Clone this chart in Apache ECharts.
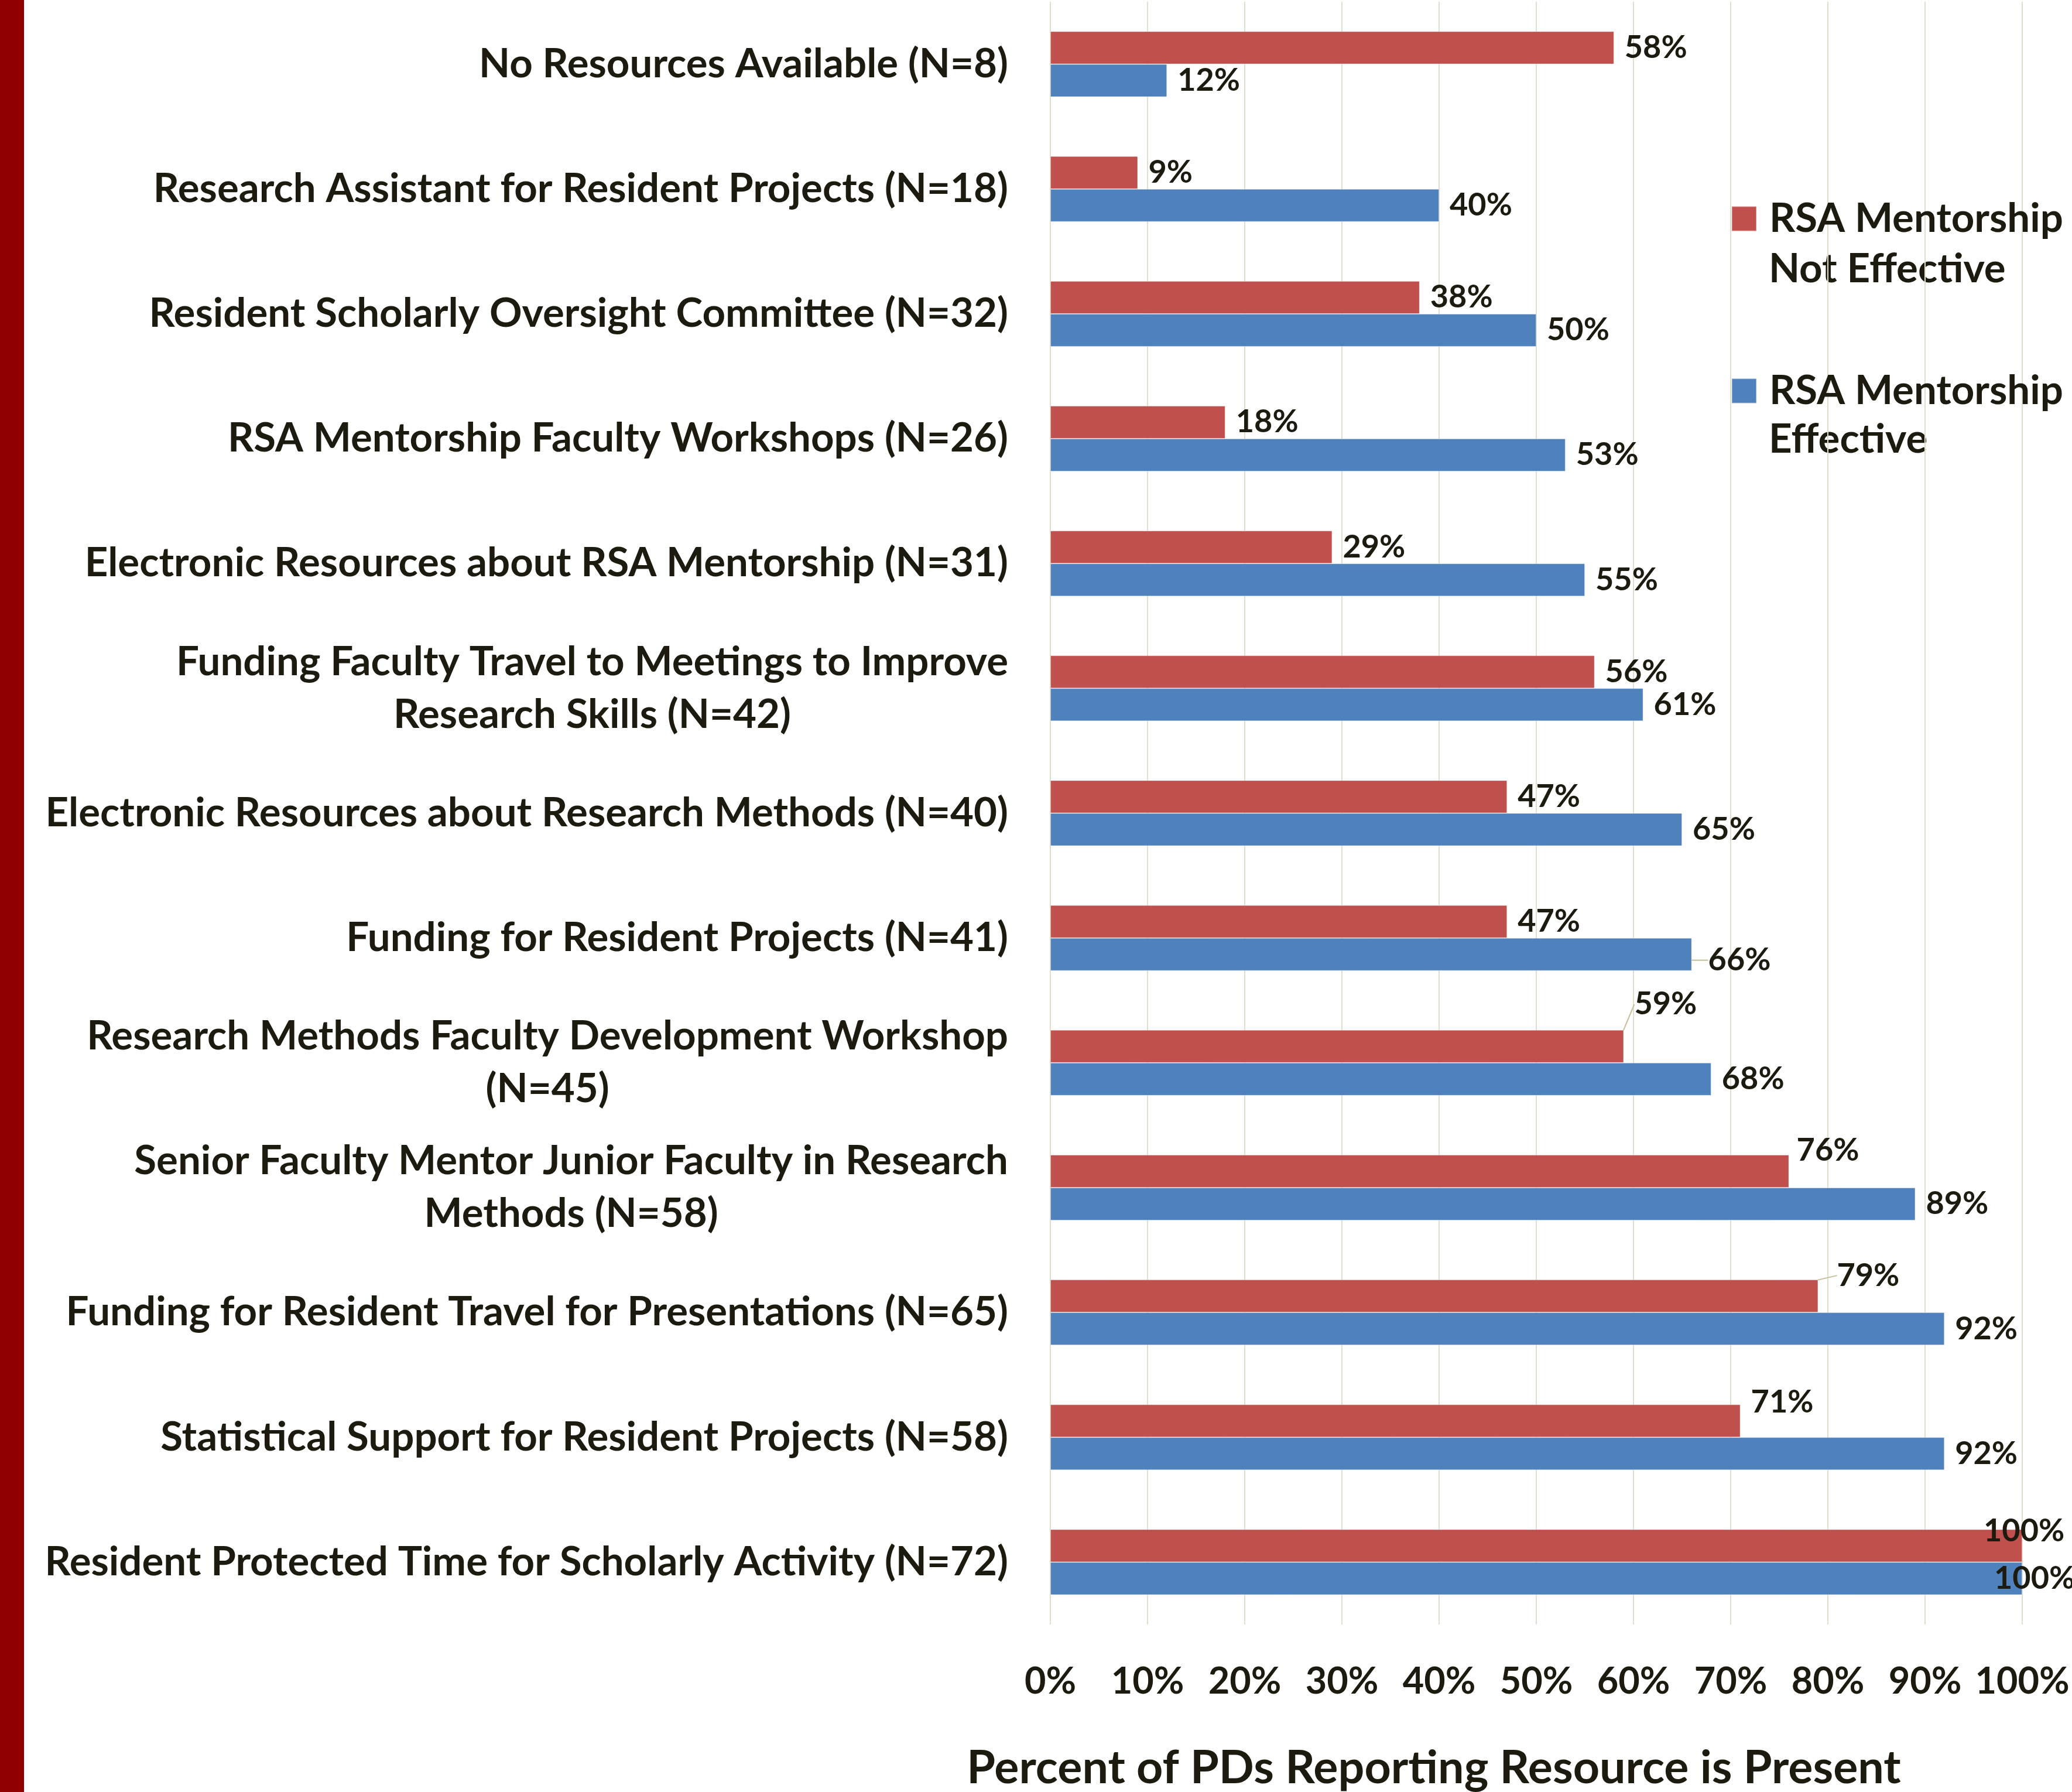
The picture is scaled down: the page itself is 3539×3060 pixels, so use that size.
<!DOCTYPE html>
<html>
<head>
<meta charset="utf-8">
<script src="https://cdn.jsdelivr.net/npm/echarts@6/dist/echarts.min.js"></script>
<style>
  html, body { margin: 0; padding: 0; background: #ffffff; }
  #chart { width: 3539px; height: 3060px; }
</style>
</head>
<body>
<div id="chart"></div>
<script>
// ---- data ----
const categories = [
  'No Resources Available (N=8)',
  'Research Assistant for Resident Projects (N=18)',
  'Resident Scholarly Oversight Committee (N=32)',
  'RSA Mentorship Faculty Workshops (N=26)',
  'Electronic Resources about RSA Mentorship (N=31)',
  'Funding Faculty Travel to Meetings to Improve\nResearch Skills (N=42)',
  'Electronic Resources about Research Methods (N=40)',
  'Funding for Resident Projects (N=41)',
  'Research Methods Faculty Development Workshop\n(N=45)',
  'Senior Faculty Mentor Junior Faculty in Research\nMethods (N=58)',
  'Funding for Resident Travel for Presentations (N=65)',
  'Statistical Support for Resident Projects (N=58)',
  'Resident Protected Time for Scholarly Activity (N=72)'
];
const seriesNames = ['RSA Mentorship Not Effective', 'RSA Mentorship Effective'];
const notEffective = [58, 9, 38, 18, 29, 56, 47, 47, 59, 76, 79, 71, 100];
const effective = [12, 40, 50, 53, 55, 61, 65, 66, 68, 89, 92, 92, 100];
const xTickValues = [0, 10, 20, 30, 40, 50, 60, 70, 80, 90, 100];

// ---- label nudges (style, not data) ----
const nudges = {
  0: { 8: [0, -72, true], 9: [-5, -35, false], 10: [14, -35, true], 11: [0, -32, false], 12: [-84, -25, false] },
  1: { 7: [10, 10, true], 12: [-66, 0, false] }
};

const TEXT = '#1d1b10';
const FONT = 'Lato, "Open Sans", sans-serif';
const RED = '#c0504d';
const BLUE = '#4f81bd';

function buildData(values, sIdx) {
  return values.map((v, i) => {
    const n = nudges[sIdx][i];
    const item = { value: v };
    if (n && n[2]) {
      item.labelLine = { show: true, lineStyle: { color: '#c4bd97', width: 2 } };
    }
    return item;
  });
}

const chart = echarts.init(document.getElementById('chart'), null, { renderer: 'canvas' });

const labelCommon = {
  show: true,
  position: 'right',
  distance: 18,
  formatter: '{c}%',
  fontFamily: FONT,
  fontWeight: 'bold',
  fontSize: 54,
  color: TEXT
};

chart.setOption({
  animation: false,
  backgroundColor: '#ffffff',
  grid: { left: 1794, right: 85, top: 3, bottom: 286, containLabel: false },
  xAxis: {
    type: 'value',
    min: 0,
    max: 100,
    interval: 10,
    axisLine: { show: false },
    axisTick: { show: false },
    splitLine: { show: true, lineStyle: { color: '#e2dece', width: 2 } },
    axisLabel: {
      formatter: v => (xTickValues.indexOf(v) >= 0 ? v + '%' : ''),
      margin: 66,
      fontFamily: FONT,
      fontWeight: 'bold',
      fontSize: 63,
      color: TEXT
    }
  },
  yAxis: {
    type: 'category',
    inverse: true,
    data: categories,
    axisLine: { show: false },
    axisTick: { show: false },
    splitLine: { show: false },
    axisLabel: {
      margin: 72,
      align: 'right',
      formatter: v => v.split('\n').map(l => '{c|' + l + '}').join('\n'),
      rich: {
        c: {
          fontFamily: FONT,
          fontWeight: 'bold',
          fontSize: 69,
          lineHeight: 90,
          color: TEXT,
          align: 'center'
        }
      }
    }
  },
  legend: {
    orient: 'vertical',
    left: 2957,
    top: 339,
    padding: 0,
    itemWidth: 42,
    itemHeight: 42,
    itemGap: 225,
    icon: 'rect',
    selectedMode: false,
    data: seriesNames,
    formatter: () => 'RSA Mentorship',
    textStyle: {
      fontFamily: FONT,
      fontWeight: 'bold',
      fontSize: 69,
      lineHeight: 42,
      color: TEXT,
      padding: [0, 0, 0, 17]
    }
  },
  series: [
    {
      name: seriesNames[0],
      type: 'bar',
      barWidth: 56,
      barGap: '0%',
      data: buildData(notEffective, 0),
      itemStyle: { color: RED, borderColor: 'rgba(255,255,255,0.35)', borderWidth: 1 },
      label: labelCommon,
      labelLayout: p => {
        const n = nudges[0][p.dataIndex];
        return n ? { dx: n[0], dy: n[1] } : {};
      }
    },
    {
      name: seriesNames[1],
      type: 'bar',
      barWidth: 56,
      barGap: '0%',
      data: buildData(effective, 1),
      itemStyle: { color: BLUE, borderColor: 'rgba(255,255,255,0.35)', borderWidth: 1 },
      label: labelCommon,
      labelLayout: p => {
        const n = nudges[1][p.dataIndex];
        return n ? { dx: n[0], dy: n[1] } : {};
      }
    }
  ],
  graphic: [
    { type: 'rect', left: 0, top: 0, shape: { x: 0, y: 0, width: 41, height: 3060 }, style: { fill: '#8f0000' }, silent: true },
    { type: 'text', x: 3021, y: 460, style: { text: 'Not Effective', font: 'bold 69px ' + FONT, fill: TEXT, textAlign: 'left', textVerticalAlign: 'middle', align: 'left', verticalAlign: 'middle' } },
    { type: 'text', x: 3021, y: 751, style: { text: 'Effective', font: 'bold 69px ' + FONT, fill: TEXT, textAlign: 'left', textVerticalAlign: 'middle', align: 'left', verticalAlign: 'middle' } },
    { type: 'text', x: 2449, y: 3020, style: { text: 'Percent of PDs Reporting Resource is Present', font: 'bold 79px ' + FONT, fill: TEXT, textAlign: 'center', textVerticalAlign: 'middle', align: 'center', verticalAlign: 'middle' } }
  ]
});
</script>
</body>
</html>
